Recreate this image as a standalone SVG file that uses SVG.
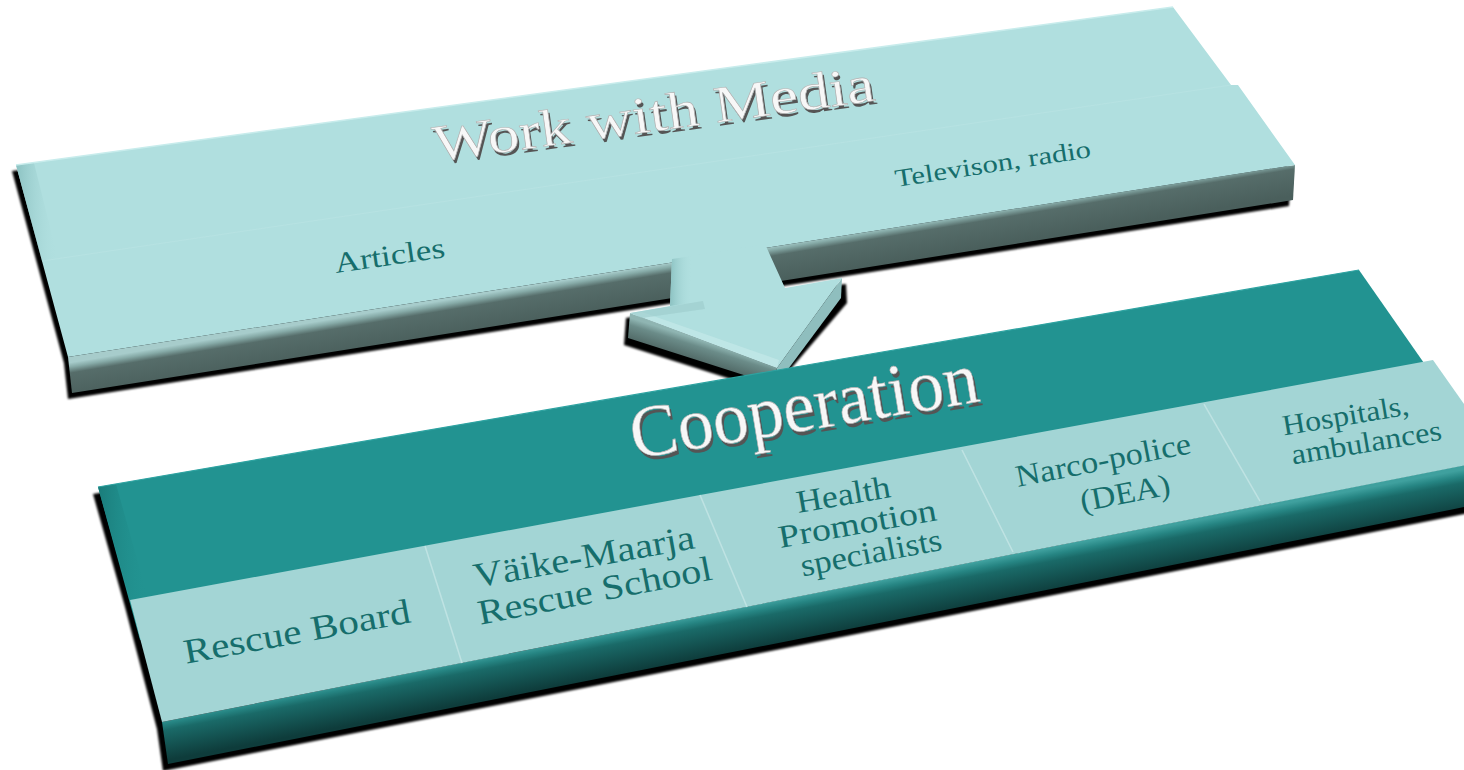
<svg xmlns="http://www.w3.org/2000/svg" width="1464" height="770" viewBox="0 0 1464 770">
<defs>
<style>
.shadow{fill:#000}
.face-light{fill:#b0dfdf}
.label{font-family:"Liberation Serif","Times New Roman",serif;fill:#166e6c;text-anchor:middle}
.emb{font-family:"Liberation Serif","Times New Roman",serif;text-anchor:middle}
.emb-s{fill:#555}
.emb-f{fill:#f7f7f7;stroke:#b0b0b0;stroke-width:0.6}
.divider{stroke:#bfe3e3;stroke-width:1.5;fill:none}
</style>
<linearGradient id="gTopFront" gradientUnits="userSpaceOnUse" x1="680" y1="261" x2="686" y2="297">
<stop offset="0" stop-color="#a7cccb"/>
<stop offset="0.12" stop-color="#86aaa7"/>
<stop offset="0.28" stop-color="#566d6a"/>
<stop offset="1" stop-color="#4a5f5c"/>
</linearGradient>
<linearGradient id="gBotFront" gradientUnits="userSpaceOnUse" x1="800" y1="596" x2="808" y2="638">
<stop offset="0" stop-color="#3fa09e"/>
<stop offset="0.15" stop-color="#268583"/>
<stop offset="0.3" stop-color="#1a6a68"/>
<stop offset="1" stop-color="#0e3c3b"/>
</linearGradient>
<linearGradient id="gArrowFront" gradientUnits="userSpaceOnUse" x1="700" y1="340" x2="693" y2="362">
<stop offset="0" stop-color="#8fb5b2"/>
<stop offset="0.3" stop-color="#6b8c89"/>
<stop offset="1" stop-color="#4d6461"/>
</linearGradient>
<linearGradient id="gBevelL" x1="0" y1="0" x2="1" y2="0">
<stop offset="0" stop-color="#8cc2c2"/>
<stop offset="1" stop-color="#b0dfdf" stop-opacity="0"/>
</linearGradient>
<linearGradient id="gBevelT" x1="0" y1="0" x2="1" y2="0">
<stop offset="0" stop-color="#1a7c7a"/>
<stop offset="1" stop-color="#229391" stop-opacity="0"/>
</linearGradient>
<filter id="blur" x="-5%" y="-5%" width="110%" height="110%"><feGaussianBlur stdDeviation="1.2"/></filter>
</defs>

<g id="node-work-with-media">
<polygon class="shadow" filter="url(#blur)" points="12,171 1169,13 1227,91 1234,91 1291,171 1289,206 68,399 64,363"/>
<polygon fill="url(#gTopFront)" points="68,357 1295,165 1293,200 72,393"/>
<polygon class="face-light" points="16,165 1173,7 1231,85 1238,85 1295,165 68,357"/>
<polygon fill="url(#gBevelL)" points="16,165 34,163 58,259 42,261"/>
<line x1="42" y1="261" x2="1231" y2="85" stroke="#c3e8e8" stroke-width="1" opacity="0.35"/>
<line x1="16" y1="165" x2="1173" y2="7" stroke="#c8ecec" stroke-width="1.5"/>
<g class="emb" font-size="52">
<text class="emb-s" x="1.5" y="3.5" textLength="445" lengthAdjust="spacingAndGlyphs" transform="translate(656,131) rotate(-7.9)">Work with Media</text>
<text class="emb-f" textLength="445" lengthAdjust="spacingAndGlyphs" transform="translate(656,131) rotate(-7.9)">Work with Media</text>
</g>
<text class="label" font-size="29" textLength="111" lengthAdjust="spacingAndGlyphs" transform="translate(391,265) rotate(-8.3)">Articles</text>
<text class="label" font-size="25" textLength="198" lengthAdjust="spacingAndGlyphs" transform="translate(994,172) rotate(-8.7)">Televison, radio</text>
</g>

<g id="connectors">
<polygon class="shadow" filter="url(#blur)" points="626,318 624,345 771,392 847,303 846,284 800,290"/>
<polygon fill="url(#gArrowFront)" points="630,313 777,368 775,385 628,338"/>
<polygon fill="#8fbebe" points="842,278 841,298 777,384 777,368"/>
<polygon class="face-light" points="672,259 765,244 785,288 842,278 777,368 630,313 670,306"/>
<polygon fill="url(#gBevelL)" points="672,259 692,256 690,303 670,306"/>
<polygon fill="#c4e8e8" opacity="0.7" points="632,314 777,368 779,360 642,312"/>
<polygon fill="#9ccccc" opacity="0.6" points="630,313 703,301 705,309 642,318"/>
</g>

<g id="node-cooperation">
<polygon class="shadow" filter="url(#blur)" points="93,494 1354,277 1418,369 1428,367 1520,490 1520,503 163,771 157,729 125,607"/>
<polygon fill="url(#gBotFront)" points="162,722 1520,454 1520,496 168,764"/>
<polygon fill="#229391" points="98,487 1359,270 1440,386 140,640"/>
<polygon fill="url(#gBevelT)" points="98,487 116,484 148,598 130,600"/>
<line x1="98" y1="487" x2="1359" y2="270" stroke="#2ea3a1" stroke-width="1.2"/>
<polygon fill="#a3d5d5" points="130,600 1433,360 1502,458 162,722"/>
<line class="divider" x1="425" y1="546" x2="462" y2="663"/>
<line class="divider" x1="700" y1="495" x2="747" y2="607"/>
<line class="divider" x1="962" y1="450" x2="1013" y2="552"/>
<line class="divider" x1="1204" y1="404" x2="1260" y2="501"/>
<g class="emb" font-size="74">
<text class="emb-s" x="1.5" y="4" textLength="352" lengthAdjust="spacingAndGlyphs" transform="translate(808,430) rotate(-9.4)">Cooperation</text>
<text class="emb-f" textLength="352" lengthAdjust="spacingAndGlyphs" transform="translate(808,430) rotate(-9.4)">Cooperation</text>
</g>
<g id="cell-rescue-board"><text class="label" font-size="35" textLength="230" lengthAdjust="spacingAndGlyphs" transform="translate(299,643) rotate(-10.4)">Rescue Board</text></g>
<g id="cell-vaike-maarja">
<text class="label" font-size="35" textLength="224" lengthAdjust="spacingAndGlyphs" transform="translate(586,568) rotate(-10.2)">Väike-Maarja</text>
<text class="label" font-size="35" textLength="238" lengthAdjust="spacingAndGlyphs" transform="translate(597,602) rotate(-11)">Rescue School</text>
</g>
<g id="cell-health-promotion">
<text class="label" font-size="32" textLength="95" lengthAdjust="spacingAndGlyphs" transform="translate(845,505) rotate(-9.8)">Health</text>
<text class="label" font-size="32" textLength="160" lengthAdjust="spacingAndGlyphs" transform="translate(859,534) rotate(-10)">Promotion</text>
<text class="label" font-size="32" textLength="143" lengthAdjust="spacingAndGlyphs" transform="translate(873,563) rotate(-10.8)">specialists</text>
</g>
<g id="cell-narco-police">
<text class="label" font-size="31" textLength="178" lengthAdjust="spacingAndGlyphs" transform="translate(1105,470) rotate(-11)">Narco-police</text>
<text class="label" font-size="31" textLength="91" lengthAdjust="spacingAndGlyphs" transform="translate(1127,503) rotate(-10.8)">(DEA)</text>
</g>
<g id="cell-hospitals">
<text class="label" font-size="29" textLength="128" lengthAdjust="spacingAndGlyphs" transform="translate(1347,425) rotate(-9.5)">Hospitals,</text>
<text class="label" font-size="29" textLength="152" lengthAdjust="spacingAndGlyphs" transform="translate(1368,452) rotate(-9.5)">ambulances</text>
</g>
</g>
</svg>
